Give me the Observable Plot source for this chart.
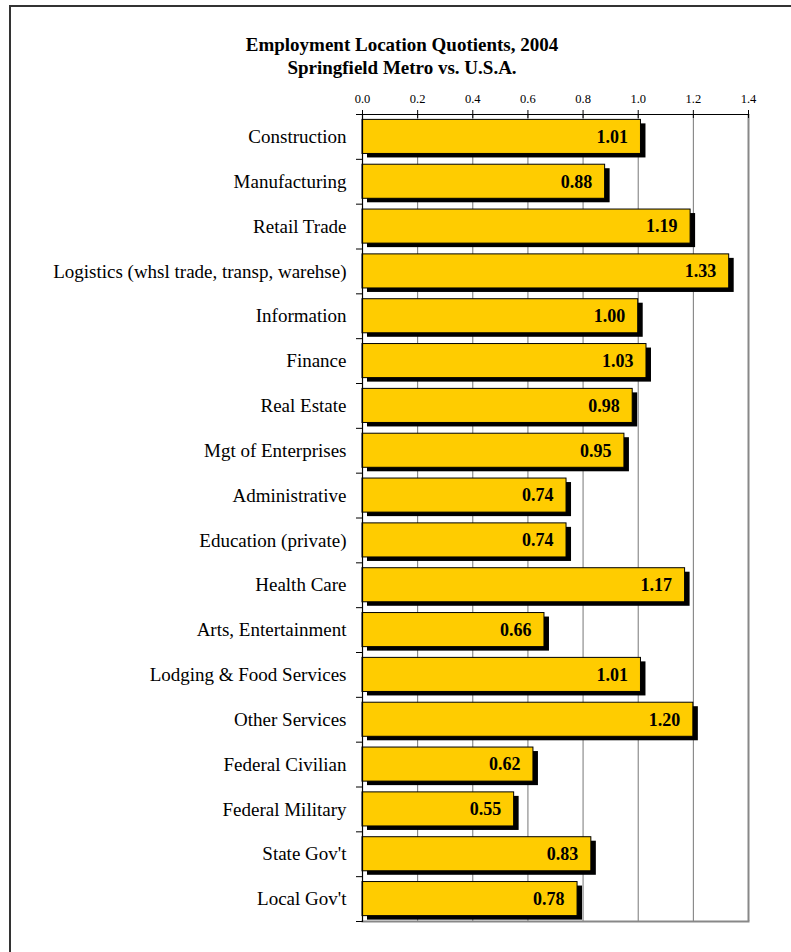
<!DOCTYPE html>
<html><head><meta charset="utf-8">
<script src="https://cdn.jsdelivr.net/npm/d3@7"></script>
<script src="https://cdn.jsdelivr.net/npm/@observablehq/plot@0.6"></script>
<style>
body{margin:0;background:#fff;}
#wrap{position:relative;width:791px;height:952px;overflow:hidden;font-family:"Liberation Serif","Times New Roman",serif;background:#fff;}
#border{position:absolute;left:9px;top:5px;width:900px;height:1000px;border:2px solid #333;}
.title{position:absolute;left:0;width:804px;text-align:center;font-weight:bold;font-size:19px;line-height:22px;color:#000;}
#chart{position:absolute;left:0;top:0;}
</style></head><body>
<div id="wrap"><div id="border"></div>
<div class="title" style="top:34px">Employment Location Quotients, 2004</div>
<div class="title" style="top:57px">Springfield Metro vs. U.S.A.</div>
<div id="chart"></div></div>
<script>
const categories = [
  "Construction", "Manufacturing", "Retail Trade", "Logistics (whsl trade, transp, warehse)",
  "Information", "Finance", "Real Estate", "Mgt of Enterprises", "Administrative",
  "Education (private)", "Health Care", "Arts, Entertainment", "Lodging & Food Services",
  "Other Services", "Federal Civilian", "Federal Military", "State Gov't", "Local Gov't"
];
const values = [1.01, 0.88, 1.19, 1.33, 1.00, 1.03, 0.98, 0.95, 0.74, 0.74, 1.17, 0.66, 1.01, 1.20, 0.62, 0.55, 0.83, 0.78];
const xTicks = [0, 0.2, 0.4, 0.6, 0.8, 1.0, 1.2, 1.4];

const data = categories.map((c, i) => ({category: c, value: values[i]}));
const W = 791, H = 952, mt = 114, mb = 31, ml = 362, mr = 43;
const frameH = H - mt - mb, frameW = W - ml - mr;
const step = frameH / categories.length;

const chart = Plot.plot({
  width: W, height: H,
  marginTop: mt, marginBottom: mb, marginLeft: ml, marginRight: mr,
  style: {fontFamily: "'Liberation Serif', 'Times New Roman', serif", background: "transparent", color: "#000"},
  x: {domain: [0, 1.4]},
  y: {domain: categories, paddingInner: 0.24, paddingOuter: 0.12, round: false},
  marks: [
    Plot.ruleX(xTicks.slice(1, -1), {x: d => d, stroke: "#777", strokeWidth: 1}),
    Plot.ruleX([1.4], {x: d => d, stroke: "#888", strokeWidth: 2}),
    Plot.frame({anchor: "bottom", stroke: "#888", strokeWidth: 2}),
    Plot.barX(data, {x: "value", y: "category", fill: "#000", dx: 5, dy: 4}),
    Plot.barX(data, {x: "value", y: "category", fill: "#FFCC00", stroke: "#000", strokeWidth: 1}),
    Plot.text(data, {x: "value", y: "category", text: d => d.value.toFixed(2), textAnchor: "end", dx: -13, fontWeight: "bold", fontSize: 18, fill: "#000"}),
    Plot.frame({anchor: "top", stroke: "#000", strokeWidth: 1.2}),
    Plot.frame({anchor: "left", stroke: "#000", strokeWidth: 1.2}),
    Plot.tickX(xTicks, {x: d => d, insetTop: -4, insetBottom: frameH - 4, stroke: "#000"}),
    Plot.tickY(categories, {y: d => d, dy: -step / 2, insetLeft: -6, insetRight: frameW, stroke: "#000"}),
    Plot.tickY([categories[categories.length - 1]], {y: d => d, dy: step / 2, insetLeft: -6, insetRight: frameW, stroke: "#000"}),
    Plot.axisX(xTicks, {anchor: "top", tickSize: 0, tickPadding: 12, tickFormat: d => d.toFixed(1), fontSize: 12.5, label: null}),
    Plot.axisY({tickSize: 0, tickPadding: 16, fontSize: 19, label: null})
  ]
});
document.getElementById("chart").appendChild(chart);
</script>
</body></html>
